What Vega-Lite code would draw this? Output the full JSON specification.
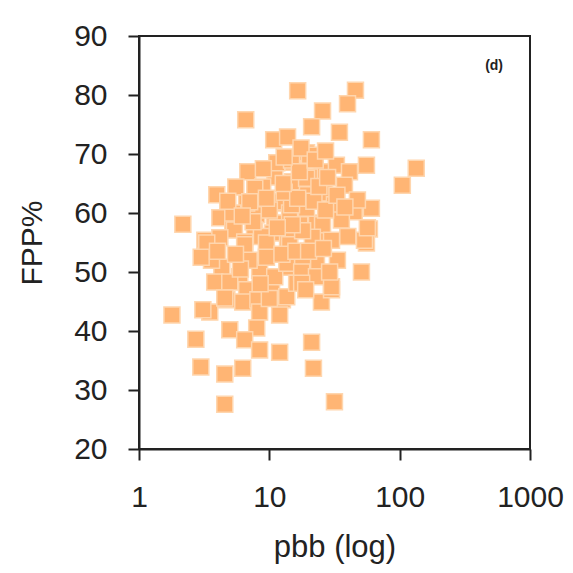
{
  "$schema": "https://vega.github.io/schema/vega-lite/v6.json",
  "autosize": "none",
  "width": 391,
  "height": 413,
  "padding": {"left": 139, "top": 36, "right": 43, "bottom": 124},
  "background": "white",
  "config": {
    "view": {"stroke": "#222", "strokeWidth": 2},
    "font": "Liberation Sans"
  },
  "layer": [
    {
      "data": {"values": [
        {"pbb": 1.79, "fpp": 42.7}, {"pbb": 2.17, "fpp": 58.1}, {"pbb": 2.73, "fpp": 38.6}, {"pbb": 2.98, "fpp": 33.9},
        {"pbb": 4.55, "fpp": 32.7}, {"pbb": 4.55, "fpp": 27.6}, {"pbb": 6.25, "fpp": 33.7}, {"pbb": 6.59, "fpp": 75.8},
        {"pbb": 16.5, "fpp": 80.7}, {"pbb": 45.8, "fpp": 80.8}, {"pbb": 39.8, "fpp": 78.5}, {"pbb": 25.6, "fpp": 77.3},
        {"pbb": 21.1, "fpp": 74.6}, {"pbb": 34.5, "fpp": 73.7}, {"pbb": 60.7, "fpp": 72.4}, {"pbb": 134, "fpp": 67.6},
        {"pbb": 104.8, "fpp": 64.7}, {"pbb": 55.6, "fpp": 68.1}, {"pbb": 60.7, "fpp": 60.8}, {"pbb": 44.8, "fpp": 60.2},
        {"pbb": 58.6, "fpp": 57.3}, {"pbb": 55.6, "fpp": 54.9}, {"pbb": 50.9, "fpp": 50.0}, {"pbb": 33.3, "fpp": 52.0},
        {"pbb": 21.1, "fpp": 38.1}, {"pbb": 21.8, "fpp": 33.7}, {"pbb": 31.6, "fpp": 28.0}, {"pbb": 25.1, "fpp": 44.9},
        {"pbb": 30.0, "fpp": 47.0}, {"pbb": 23.0, "fpp": 55.9}, {"pbb": 22.2, "fpp": 52.9}, {"pbb": 10.8, "fpp": 72.4},
        {"pbb": 13.8, "fpp": 72.9}, {"pbb": 6.83, "fpp": 67.0}, {"pbb": 11.0, "fpp": 66.1}, {"pbb": 15.1, "fpp": 68.6},
        {"pbb": 19.3, "fpp": 70.2}, {"pbb": 25.1, "fpp": 67.0}, {"pbb": 3.95, "fpp": 63.1}, {"pbb": 5.53, "fpp": 64.4},
        {"pbb": 8.89, "fpp": 64.4}, {"pbb": 15.1, "fpp": 65.3}, {"pbb": 20.3, "fpp": 66.1}, {"pbb": 4.17, "fpp": 59.2},
        {"pbb": 8.0, "fpp": 59.7}, {"pbb": 12.0, "fpp": 61.7}, {"pbb": 18.0, "fpp": 60.8}, {"pbb": 6.7, "fpp": 61.7},
        {"pbb": 11.0, "fpp": 58.3}, {"pbb": 5.24, "fpp": 58.3}, {"pbb": 23.0, "fpp": 58.3}, {"pbb": 11.4, "fpp": 68.5},
        {"pbb": 7.73, "fpp": 64.2}, {"pbb": 11.6, "fpp": 61.9}, {"pbb": 7.07, "fpp": 61.9}, {"pbb": 5.24, "fpp": 60.0},
        {"pbb": 14.3, "fpp": 60.0}, {"pbb": 5.4, "fpp": 57.1}, {"pbb": 7.7, "fpp": 57.1}, {"pbb": 10.6, "fpp": 56.6},
        {"pbb": 14.3, "fpp": 55.4}, {"pbb": 3.2, "fpp": 55.4}, {"pbb": 4.17, "fpp": 55.8}, {"pbb": 6.47, "fpp": 55.1},
        {"pbb": 8.7, "fpp": 56.0}, {"pbb": 14.8, "fpp": 69.0}, {"pbb": 20.3, "fpp": 69.8}, {"pbb": 32.7, "fpp": 68.1},
        {"pbb": 41.2, "fpp": 67.0}, {"pbb": 19.3, "fpp": 65.9}, {"pbb": 37.7, "fpp": 64.7}, {"pbb": 26.5, "fpp": 63.4},
        {"pbb": 19.6, "fpp": 63.1}, {"pbb": 47.4, "fpp": 62.2}, {"pbb": 31.6, "fpp": 61.4}, {"pbb": 19.3, "fpp": 60.8},
        {"pbb": 14.8, "fpp": 61.4}, {"pbb": 17.1, "fpp": 58.0}, {"pbb": 25.6, "fpp": 58.0}, {"pbb": 35.7, "fpp": 58.8},
        {"pbb": 13.8, "fpp": 55.4}, {"pbb": 21.4, "fpp": 55.9}, {"pbb": 30.0, "fpp": 55.4}, {"pbb": 3.31, "fpp": 54.9},
        {"pbb": 6.47, "fpp": 54.6}, {"pbb": 9.5, "fpp": 54.9}, {"pbb": 14.3, "fpp": 54.6}, {"pbb": 4.32, "fpp": 50.8},
        {"pbb": 8.42, "fpp": 50.3}, {"pbb": 13.6, "fpp": 50.8}, {"pbb": 5.93, "fpp": 49.2}, {"pbb": 3.81, "fpp": 48.3},
        {"pbb": 4.97, "fpp": 48.3}, {"pbb": 10.4, "fpp": 47.0}, {"pbb": 6.7, "fpp": 47.0}, {"pbb": 4.72, "fpp": 45.3},
        {"pbb": 6.25, "fpp": 44.9}, {"pbb": 12.6, "fpp": 45.3}, {"pbb": 8.17, "fpp": 45.3}, {"pbb": 3.49, "fpp": 43.2},
        {"pbb": 12.0, "fpp": 42.7}, {"pbb": 8.42, "fpp": 43.2}, {"pbb": 4.97, "fpp": 40.2}, {"pbb": 8.0, "fpp": 40.5},
        {"pbb": 6.47, "fpp": 38.5}, {"pbb": 8.42, "fpp": 36.8}, {"pbb": 12.0, "fpp": 36.4}, {"pbb": 11.0, "fpp": 49.2},
        {"pbb": 4.55, "fpp": 45.6}, {"pbb": 3.09, "fpp": 43.6}, {"pbb": 13.6, "fpp": 45.8}, {"pbb": 16.2, "fpp": 48.1},
        {"pbb": 23.0, "fpp": 51.5}, {"pbb": 13.6, "fpp": 51.5}, {"pbb": 18.0, "fpp": 50.8}, {"pbb": 17.7, "fpp": 50.0},
        {"pbb": 23.0, "fpp": 49.2}, {"pbb": 30.0, "fpp": 47.5}, {"pbb": 17.7, "fpp": 48.1}, {"pbb": 53.7, "fpp": 55.4},
        {"pbb": 56.5, "fpp": 57.5}, {"pbb": 9.5, "fpp": 52.5}, {"pbb": 7.0, "fpp": 52.0}, {"pbb": 12.5, "fpp": 53.0},
        {"pbb": 16.0, "fpp": 53.5}, {"pbb": 18.0, "fpp": 57.0}, {"pbb": 10.0, "fpp": 60.5}, {"pbb": 13.0, "fpp": 63.5},
        {"pbb": 16.5, "fpp": 62.5}, {"pbb": 9.0, "fpp": 67.5}, {"pbb": 12.8, "fpp": 65.0}, {"pbb": 22.0, "fpp": 62.0},
        {"pbb": 27.0, "fpp": 60.5}, {"pbb": 24.0, "fpp": 64.5}, {"pbb": 28.0, "fpp": 66.0}, {"pbb": 17.0, "fpp": 67.0},
        {"pbb": 6.0, "fpp": 50.5}, {"pbb": 10.0, "fpp": 45.5}, {"pbb": 5.5, "fpp": 53.0}, {"pbb": 8.5, "fpp": 48.0},
        {"pbb": 15.0, "fpp": 58.0}, {"pbb": 20.0, "fpp": 53.5}, {"pbb": 26.0, "fpp": 54.0}, {"pbb": 29.0, "fpp": 50.0},
        {"pbb": 11.5, "fpp": 57.5}, {"pbb": 7.5, "fpp": 58.5}, {"pbb": 4.8, "fpp": 62.0}, {"pbb": 13.0, "fpp": 69.5},
        {"pbb": 17.5, "fpp": 71.0}, {"pbb": 22.5, "fpp": 69.0}, {"pbb": 33.0, "fpp": 63.0}, {"pbb": 38.0, "fpp": 61.0},
        {"pbb": 40.0, "fpp": 56.0}, {"pbb": 27.0, "fpp": 70.5}, {"pbb": 9.5, "fpp": 62.5}, {"pbb": 3.6, "fpp": 52.0},
        {"pbb": 3.0, "fpp": 52.5}, {"pbb": 4.0, "fpp": 53.5}, {"pbb": 6.2, "fpp": 59.5}, {"pbb": 19.0, "fpp": 47.0}
      ]},
      "mark": {"type": "square", "size": 256, "fill": "#FFB574", "fillOpacity": 1, "stroke": "#FFD6AE", "strokeWidth": 1.5, "opacity": 1},
      "encoding": {
        "x": {"field": "pbb", "type": "quantitative",
              "scale": {"type": "log", "domain": [1, 1000], "nice": false},
              "axis": {"title": "pbb (log)", "values": [1, 10, 100, 1000], "format": "d", "grid": false,
                       "domainColor": "#222", "domainWidth": 2, "tickColor": "#222", "tickWidth": 2, "tickSize": 11,
                       "labelFontSize": 30, "labelColor": "#222", "labelPadding": 22, "labelFlush": false,
                       "titleFontSize": 31, "titleFontWeight": "normal", "titleColor": "#222", "titlePadding": 20}},
        "y": {"field": "fpp", "type": "quantitative",
              "scale": {"domain": [20, 90], "nice": false, "zero": false},
              "axis": {"title": "FPP%", "values": [20, 30, 40, 50, 60, 70, 80, 90], "grid": false,
                       "domainColor": "#222", "domainWidth": 2, "tickColor": "#222", "tickWidth": 2, "tickSize": 11,
                       "labelFontSize": 30, "labelColor": "#222", "labelPadding": 21, "labelFlush": false,
                       "titleFontSize": 30, "titleFontWeight": "normal", "titleColor": "#222", "titlePadding": 26}}
      }
    },
    {
      "data": {"values": [{"label": "(d)", "px": 530, "py": 85}]},
      "mark": {"type": "text", "fontSize": 14, "fontWeight": "bold", "color": "#222", "align": "center", "baseline": "middle"},
      "encoding": {
        "x": {"field": "px", "type": "quantitative"},
        "y": {"field": "py", "type": "quantitative"},
        "text": {"field": "label"}
      }
    }
  ]
}
